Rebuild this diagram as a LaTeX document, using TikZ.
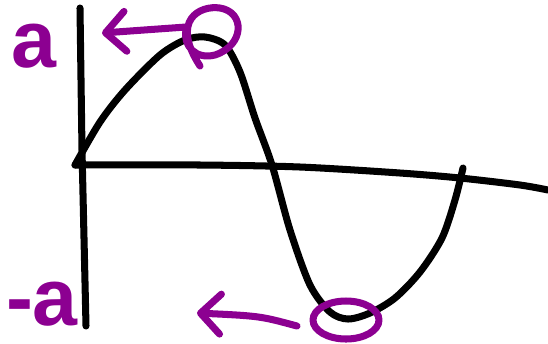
\documentclass[tikz,border=0pt]{standalone}
\usepackage{fontspec}
\setsansfont{Liberation Sans}
\usetikzlibrary{arrows.meta}
\definecolor{penpurple}{RGB}{140,0,145}

\begin{document}
\begin{tikzpicture}[
    x=0.02cm, y=-0.02cm,
    ink/.style={line width=4pt, line cap=round, line join=round, black},
    mark ink/.style={line width=4pt, line cap=round, line join=round, penpurple},
    arrow/.style={mark ink, -{Straight Barb[length=4mm, width=8mm, round]}},
    label/.style={text=penpurple, font=\sffamily\bfseries\fontsize{46}{46}\selectfont, inner sep=0pt},
]
\useasboundingbox (0,0) rectangle (548,343);

% axes
\draw[ink] (80,8) -- (82,150) -- (86,326);
\draw[ink] plot[smooth] coordinates {(75,165) (200,165) (300,167) (400,173) (460,178) (520,185) (548,190)};

% wave
\draw[ink] plot[smooth] coordinates {(75,165) (100,122) (125,90) (160,55) (185,40) (205,37) (225,45) (240,72) (255,118) (272,165) (290,230) (310,285) (330,312) (348,319) (370,313) (395,298) (420,272) (442,238) (455,200) (463,168)};

% marks at top and bottom
\coordinate (top) at (186,27);
\coordinate (bottom) at (297,326);
\draw[mark ink] (200,66) .. controls (170,20) and (200,5) .. (220,8)
    .. controls (245,12) and (245,45) .. (215,55) .. controls (195,60) and (183,45) .. (186,30);
\draw[mark ink] (346,320) ellipse (33 and 19);

\node[label] (a) at (34,46) {a};
\node[label] (minusa) at (42,304) {-a};

\draw[arrow] (top) -- (102,33);
\draw[arrow] (bottom) .. controls (260,316) .. (197,313);

\end{tikzpicture}
\end{document}
